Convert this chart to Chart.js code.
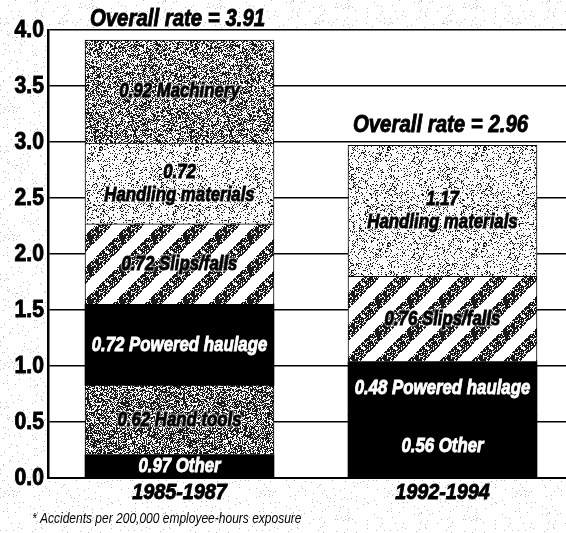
<!DOCTYPE html>
<html>
<head>
<meta charset="utf-8">
<script src="https://cdn.jsdelivr.net/npm/chart.js@4.4.1/dist/chart.umd.min.js"></script>
<style>
  html, body { margin: 0; padding: 0; background: #fff; overflow: hidden; }
  #wrap { width: 574px; height: 533px; }
</style>
</head>
<body>
<div id="wrap"><canvas id="accidentChart"></canvas></div>
<script>
// periods on the x axis
const periods = ['1985-1987', '1992-1994'];
const overallRates = [3.91, 2.96];

// segment heights as drawn (stacked from the bottom)
const other = [0.21, 0.56];
const handTools = [0.62, 0];
const poweredHaulage = [0.72, 0.48];
const slipsFalls = [0.72, 0.76];
const handlingMaterials = [0.72, 1.17];
const machinery = [0.92, 0];

// rates printed on the segments (the 1985-87 "Other" is printed as 0.97)
const otherPrinted = [0.97, 0.56];

const yTicks = { min: 0, max: 4, step: 0.5 };

const FONT = '"Liberation Sans", Arial, sans-serif';
const footnote = '* Accidents per 200,000 employee-hours exposure';

// small helper for repeatable speckle
function rnd(i) {
    const x = Math.sin(i * 12.9898 + 78.233) * 43758.5453;
    return x - Math.floor(x);
}

function noisePattern(darkness, seed, dark, light, size) {
    size = size || 96;
    const c = document.createElement('canvas');
    c.width = size; c.height = size;
    const g = c.getContext('2d');
    const img = g.createImageData(size, size);
    for (let i = 0; i < size * size; i++) {
        const v = rnd(i + seed * 10000) < darkness ? (dark ?? 25) : (light ?? 250);
        img.data[i * 4] = v; img.data[i * 4 + 1] = v; img.data[i * 4 + 2] = v; img.data[i * 4 + 3] = 255;
    }
    g.putImageData(img, 0, 0);
    return g.createPattern(c, 'repeat');
}

function stripePattern() {
    const s = 32;
    const c = document.createElement('canvas');
    c.width = s; c.height = s;
    const g = c.getContext('2d');
    g.fillStyle = '#fff';
    g.fillRect(0, 0, s, s);
    const img = g.getImageData(0, 0, s, s);
    for (let y = 0; y < s; y++) {
        for (let x = 0; x < s; x++) {
            const d = (x + y) % s;            // "/" diagonal bands
            if (d < 17) {
                const i = y * s + x;
                const v = rnd(i + 555) < 0.75 ? 25 : 255;
                img.data[i * 4] = v; img.data[i * 4 + 1] = v; img.data[i * 4 + 2] = v;
            }
        }
    }
    g.putImageData(img, 0, 0);
    return g.createPattern(c, 'repeat');
}

// draw text squeezed horizontally (the original uses a condensed black face)
function condensedText(c, text, x, y, sx, halo, heavy = true) {
    c.save();
    c.translate(x, y);
    c.scale(sx, 1);
    if (halo) {
        c.lineWidth = 3.5;
        c.strokeStyle = 'rgba(255,255,255,0.5)';
        c.strokeText(text, 0, 0);
    }
    if (heavy) {
        c.lineWidth = 0.9;
        c.strokeStyle = c.fillStyle;
        c.strokeText(text, 0, 0);
    }
    c.fillText(text, 0, 0);
    c.restore();
}

const ctx = document.getElementById('accidentChart').getContext('2d');

const segments = [
    { label: 'Other', data: other, fill: '#000', text: '#fff', printed: otherPrinted },
    { label: 'Hand tools', data: handTools, fill: noisePattern(0.58, 1), text: '#000', printed: handTools },
    { label: 'Powered haulage', data: poweredHaulage, fill: '#000', text: '#fff', printed: poweredHaulage },
    { label: 'Slips/falls', data: slipsFalls, fill: stripePattern(), text: '#000', printed: slipsFalls },
    { label: 'Handling materials', data: handlingMaterials, fill: noisePattern(0.18, 2), text: '#000', printed: handlingMaterials, twoLines: true },
    { label: 'Machinery', data: machinery, fill: noisePattern(0.48, 3), text: '#000', printed: machinery }
];

// faint scanner speckle around the plot
const speckle = noisePattern(0.025, 4, 185, 255, 128);
const paperSpeckle = {
    id: 'paperSpeckle',
    beforeDraw(chart) {
        const c = chart.ctx;
        const a = chart.chartArea;
        c.save();
        c.fillStyle = speckle;
        c.fillRect(0, 0, chart.width, a.top - 2);
        c.fillRect(0, a.top, a.left - 2, a.bottom - a.top);
        c.fillRect(0, a.bottom + 2, chart.width, chart.height - a.bottom - 2);
        c.restore();
    }
};

// writes the rate and cause inside each segment
const segmentLabels = {
    id: 'segmentLabels',
    afterDatasetsDraw(chart) {
        const c = chart.ctx;
        c.save();
        c.textAlign = 'center';
        c.textBaseline = 'middle';
        c.font = 'italic bold 21px ' + FONT;
        segments.forEach((seg, i) => {
            chart.getDatasetMeta(i).data.forEach((bar, j) => {
                if (!seg.data[j]) return;
                const mid = (bar.y + bar.base) / 2;
                const value = seg.printed[j].toFixed(2);
                const lines = seg.twoLines ? [value, seg.label] : [value + ' ' + seg.label];
                lines.forEach((t, k) => {
                    const y = mid + (k - (lines.length - 1) / 2) * 23;
                    c.fillStyle = seg.text;
                    condensedText(c, t, bar.x, y, 0.8, seg.text === '#000');
                });
            });
        });
        c.restore();
    }
};

// tick labels, period labels, overall rates and the footnote
const extraText = {
    id: 'extraText',
    afterDraw(chart) {
        const c = chart.ctx;
        const ys = chart.scales.y;
        const xs = chart.scales.x;
        c.save();
        c.fillStyle = '#000';

        c.font = 'bold 23px ' + FONT;
        c.textAlign = 'right';
        c.textBaseline = 'middle';
        ys.ticks.forEach(t => {
            condensedText(c, t.value.toFixed(1), 44, ys.getPixelForValue(t.value) + 1, 0.92);
        });

        c.font = 'italic bold 22px ' + FONT;
        c.textAlign = 'center';
        c.textBaseline = 'alphabetic';
        periods.forEach((p, j) => {
            condensedText(c, p, xs.getPixelForValue(j), 499, 0.9);
        });

        c.font = 'italic bold 24px ' + FONT;
        overallRates.forEach((r, j) => {
            condensedText(c, 'Overall rate = ' + r.toFixed(2), xs.getPixelForValue(j) - 2, ys.getPixelForValue(r) - 14, 0.85);
        });

        c.font = 'italic 15px ' + FONT;
        c.textAlign = 'left';
        condensedText(c, footnote, 32, 523, 0.8, false, false);
        c.restore();
    }
};

new Chart(ctx, {
    type: 'bar',
    data: {
        labels: periods,
        datasets: segments.map(seg => ({
            label: seg.label,
            data: seg.data,
            backgroundColor: seg.fill,
            borderColor: '#000',
            borderWidth: seg.fill === '#000' ? 0 : 1,
            barThickness: 189
        }))
    },
    options: {
        responsive: true,
        maintainAspectRatio: false,
        animation: false,
        layout: { padding: { top: 30, right: 0, bottom: 47, left: 48 } },
        plugins: {
            legend: { display: false },
            tooltip: { enabled: false }
        },
        scales: {
            x: {
                stacked: true,
                grid: { display: false },
                border: { display: true, color: '#000', width: 2 },
                ticks: { display: false }
            },
            y: {
                stacked: true,
                min: yTicks.min,
                max: yTicks.max,
                ticks: { display: false, stepSize: yTicks.step },
                grid: { color: '#000', lineWidth: 1.5, drawTicks: false },
                border: { display: true, color: '#000', width: 2.5 }
            }
        }
    },
    plugins: [paperSpeckle, segmentLabels, extraText]
});
</script>
</body>
</html>
